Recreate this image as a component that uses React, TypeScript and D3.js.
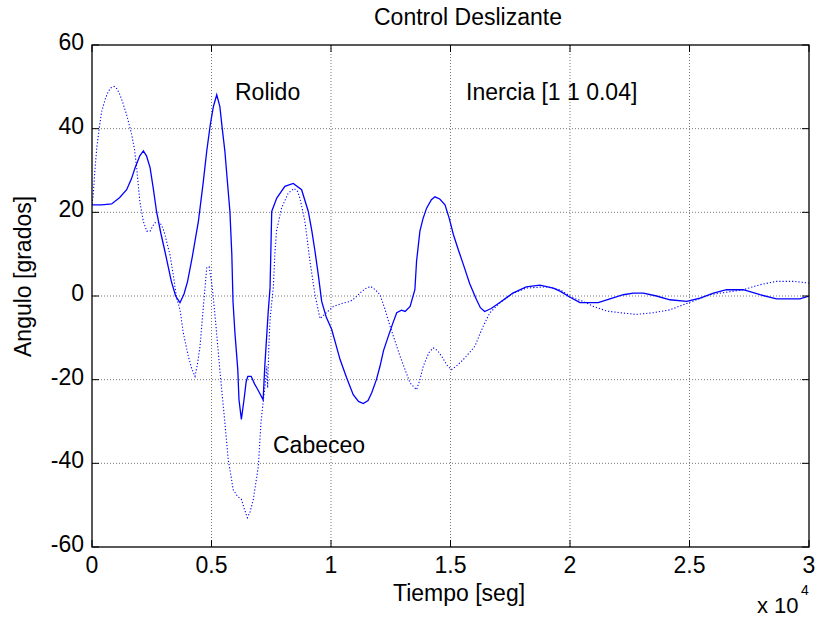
import React from "react";
import * as d3 from "d3";

// Time in seconds, angles in degrees
const rolidoTime = [
  0, 400, 820, 1150, 1450, 1650, 1800, 2000, 2150, 2280, 2430, 2570, 2700, 2880, 3050, 3320, 3500, 3680, 3850, 4000,
  4200, 4450, 4650, 4800, 4950, 5080, 5220, 5350, 5450, 5560, 5670, 5770, 5850, 5900, 5980, 6100, 6150, 6250, 6360, 6450,
  6520, 6660, 6800, 6940, 7160, 7230, 7370, 7450, 7520, 7730, 8070, 8420, 8770, 9050, 9200, 9330, 9470, 9610, 9800, 10030,
  10200, 10380, 10650, 10930, 11150, 11350, 11550, 11700, 11900, 12050, 12200, 12400, 12600, 12750, 12950, 13100, 13310, 13510, 13580, 13720,
  13850, 14000, 14200, 14350, 14550, 14770, 14950, 15120, 15330, 15540, 15800, 16080, 16250, 16430, 16700, 17050, 17610, 18170, 18740, 19300,
  19600, 20000, 20420, 21180, 21670, 22230, 22650, 23070, 23620, 24180, 24880, 25440, 26000, 26550, 27250, 27950, 28640, 29620, 30000,
];
const rolidoAngle = [
  21.8, 21.8, 22, 23.5, 25.4, 28, 30.6, 33.5, 34.7, 33.5, 30.7, 25.5, 20.2, 15, 10.7, 3.5, 0, -1.6, 0.5, 3.5,
  9.5, 17.8, 27, 34.6, 41, 45.3, 48.1, 45.3, 40, 34.6, 27, 20.2, 10, -1.3, -8.8, -17.6, -24.8, -29.5, -24.8, -20.5,
  -19.2, -19.2, -21, -22.4, -24.8, -16.8, -4, 2, 20.2, 23.4, 26.2, 26.9, 25.4, 20.2, 15.5, 10.7, 5, -1.3, -5, -8,
  -11.5, -15.2, -19.5, -23.6, -25.2, -25.7, -25, -23.2, -20, -16.8, -13, -9.6, -6.3, -4, -3.4, -3.7, -2.5, 1.5, 8.3, 15.5,
  18.5, 21, 23, 23.7, 23.2, 21.8, 18.5, 14.7, 11, 7.5, 3, -0.8, -2.8, -3.7, -3, -1.6, 0.7, 2.2, 2.6, 1.9,
  1.1, -0.3, -1.6, -1.6, -0.7, 0.3, 0.7, 0.7, 0, -0.9, -1.3, -0.5, 0.7, 1.5, 1.5, 0.3, -0.7, -0.7, 0,
];

const cabeceoTime = [
  0, 50, 120, 200, 300, 400, 550, 680, 800, 930, 1050, 1170, 1300, 1450, 1660, 1780, 1870, 2000, 2150, 2290,
  2430, 2550, 2640, 2850, 2970, 3050, 3260, 3400, 3540, 3680, 3820, 4030, 4180, 4310, 4420, 4520, 4660, 4800, 4900, 5000,
  5070, 5200, 5360, 5560, 5700, 5910, 6100, 6250, 6380, 6500, 6620, 6750, 6960, 7070, 7170, 7250, 7310, 7350, 7400, 7450,
  7590, 7650, 7720, 7930, 8210, 8460, 8600, 8700, 8910, 9120, 9330, 9540, 9800, 10100, 10500, 10800, 11000, 11210, 11450, 11660,
  11850, 12050, 12250, 12470, 12890, 13310, 13580, 13720, 13860, 14100, 14280, 14450, 14630, 14850, 15040, 15300, 15530, 15800, 16020, 16200,
  16370, 16650, 17070, 17630, 18180, 19020, 19580, 20140, 20560, 20980, 21540, 22100, 22780, 23480, 24180, 24740, 25300, 25850, 26550, 27250,
  27950, 28640, 29340, 30000,
];
const cabeceoAngle = [
  22, 24, 30, 35.4, 40, 44, 47, 48.9, 49.8, 50.1, 49.5, 48.1, 46, 43.3, 38.6, 35, 30.6, 22.6, 17.8, 15.5,
  15.5, 16.8, 17.5, 17.5, 16.2, 14.7, 9.9, 5.1, -0.5, -3.2, -8.8, -14.4, -17.5, -19.2, -16, -12, -2.5, 6.7, 7, 3.5,
  0, -8, -18.4, -30.3, -39.1, -46.3, -48, -48.6, -51, -53, -51.5, -48.6, -40.7, -30.3, -24.8, -21, -16.8, -22, -12, -5.6,
  2.3, 10, 15.5, 21, 24.6, 25.7, 25, 23.4, 17.8, 8.3, 0.3, -5.4, -4, -2.5, -1.7, -1.3, -0.5, 0.7, 1.8, 2.3,
  1.5, 0.3, -3, -7.2, -14.4, -20.8, -22.4, -20, -16.8, -13.5, -12.4, -13, -14.4, -16.5, -17.6, -16.5, -15.2, -13.5, -12, -9.5,
  -7.2, -4, -1.6, 0.7, 1.9, 2.2, 1.5, -0.5, -1.3, -2.5, -3.6, -4, -4.4, -4, -3.3, -2.1, -0.9, 0.3, 0.9, 1.5,
  2.7, 3.5, 3.5, 3.1,
];

const xTicks = [0, 5000, 10000, 15000, 20000, 25000, 30000];
const xTickLabels = ["0", "0.5", "1", "1.5", "2", "2.5", "3"];
const yTicks = [-60, -40, -20, 0, 20, 40, 60];
const yTickLabels = ["-60", "-40", "-20", "0", "20", "40", "60"];

const W = 819;
const H = 621;
const L = 92;
const R = 809;
const T = 45;
const B = 547;
const FONT = "'Liberation Sans', Arial, Helvetica, sans-serif";
const BLUE = "#0000ff";

export default function App() {
  const x = d3.scaleLinear().domain([0, 30000]).range([L, R]);
  const y = d3.scaleLinear().domain([-60, 60]).range([B, T]);
  const line = d3
    .line<[number, number]>()
    .x((d) => x(d[0]))
    .y((d) => y(d[1]));
  const rolido = rolidoTime.map((t, i) => [t, rolidoAngle[i]] as [number, number]);
  const cabeceo = cabeceoTime.map((t, i) => [t, cabeceoAngle[i]] as [number, number]);
  const tickLen = 7;

  return (
    <svg
      width={W}
      height={H}
      style={{ position: "absolute", left: 0, top: 0, background: "#fff" }}
      fontFamily={FONT}
    >
      <rect x={0} y={0} width={W} height={H} fill="#fff" />
      <defs>
        <clipPath id="plotclip">
          <rect x={L} y={T} width={R - L} height={B - T} />
        </clipPath>
      </defs>
      {/* grid */}
      {xTicks.slice(1, -1).map((t) => (
        <line key={"gx" + t} x1={x(t)} x2={x(t)} y1={T} y2={B} stroke="#777" strokeWidth={1} strokeDasharray="1,2" />
      ))}
      {yTicks.slice(1, -1).map((v) => (
        <line key={"gy" + v} x1={L} x2={R} y1={y(v)} y2={y(v)} stroke="#777" strokeWidth={1} strokeDasharray="1,2" />
      ))}
      {/* data */}
      <g clipPath="url(#plotclip)">
        <path d={line(cabeceo) || ""} fill="none" stroke={BLUE} strokeWidth={1.1} strokeDasharray="1.2,2" />
        <path d={line(rolido) || ""} fill="none" stroke={BLUE} strokeWidth={1.3} />
      </g>
      {/* axes box */}
      <rect x={L} y={T} width={R - L} height={B - T} fill="none" stroke="#000" strokeWidth={1.3} />
      {/* ticks */}
      {xTicks.map((t) => (
        <g key={"tx" + t}>
          <line x1={x(t)} x2={x(t)} y1={B} y2={B - tickLen} stroke="#000" />
          <line x1={x(t)} x2={x(t)} y1={T} y2={T + tickLen} stroke="#000" />
        </g>
      ))}
      {yTicks.map((v) => (
        <g key={"ty" + v}>
          <line x1={L} x2={L + tickLen} y1={y(v)} y2={y(v)} stroke="#000" />
          <line x1={R} x2={R - tickLen} y1={y(v)} y2={y(v)} stroke="#000" />
        </g>
      ))}
      {/* tick labels */}
      {xTicks.map((t, i) => (
        <text key={"lx" + t} x={x(t)} y={B + 26} textAnchor="middle" fontSize={23} fill="#000">
          {xTickLabels[i]}
        </text>
      ))}
      {yTicks.map((v, i) => (
        <text key={"ly" + v} x={L - 8} y={y(v) + 5} textAnchor="end" fontSize={23} fill="#000">
          {yTickLabels[i]}
        </text>
      ))}
      {/* labels */}
      <text x={374} y={25} fontSize={23} fill="#000">Control Deslizante</text>
      <text x={393} y={601} fontSize={23} fill="#000">Tiempo [seg]</text>
      <text x={757} y={613} fontSize={22} fill="#000">x 10</text>
      <text x={801} y={595} fontSize={14} fill="#000">4</text>
      <text transform="translate(31,357) rotate(-90)" fontSize={23} fill="#000">Angulo [grados]</text>
      <text x={235} y={100} fontSize={23} fill="#000">Rolido</text>
      <text x={466} y={100} fontSize={23} fill="#000">Inercia [1 1 0.04]</text>
      <text x={273} y={453} fontSize={23} fill="#000">Cabeceo</text>
    </svg>
  );
}
